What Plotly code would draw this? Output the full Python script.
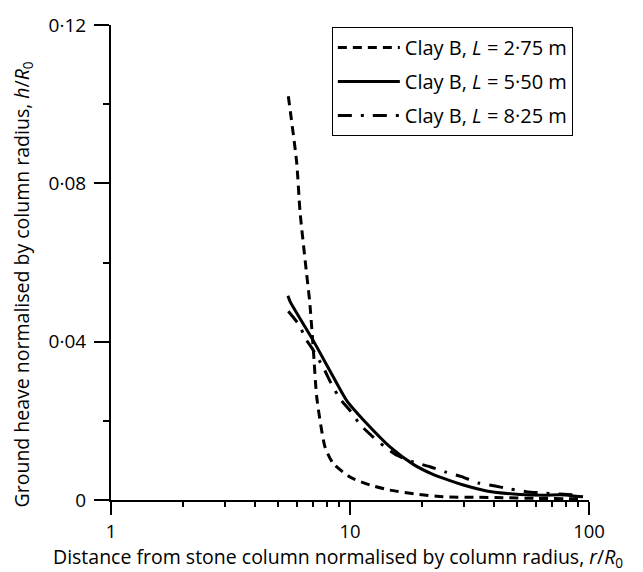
import plotly.graph_objects as go

# ---- data ----
x_l275 = [5.52, 5.98, 6.18, 6.59, 6.78, 7.03, 7.26, 7.86, 8.51, 10.0, 12.1, 14.7, 19.0, 24.5, 33.0, 43.7, 60.0, 90.0]
y_l275 = [0.102, 0.0854, 0.0728, 0.0569, 0.0502, 0.0377, 0.0259, 0.0134, 0.0092, 0.0058, 0.0038, 0.0025, 0.0015, 0.0008, 0.0007, 0.0006, 0.0004, 0.0003]

x_l550 = [5.5, 5.61, 7.03, 8.25, 9.69, 11.75, 14.7, 18.4, 22.0, 26.2, 29.8, 37.3, 51.4, 65.0, 75.6, 85.0, 94.4]
y_l550 = [0.0516, 0.0502, 0.0402, 0.0326, 0.0251, 0.0193, 0.0134, 0.0090, 0.0066, 0.0049, 0.0038, 0.0023, 0.0014, 0.0012, 0.0013, 0.0011, 0.0008]

x_l825 = [5.52, 6.18, 6.48, 6.91, 7.73, 8.33, 9.1, 10.0, 11.0, 12.5, 14.0, 15.7, 18.4, 21.6, 25.0, 29.3, 34.5, 40.0, 46.6, 54.6, 63.2, 75.0, 88.6]
y_l825 = [0.0477, 0.0439, 0.0410, 0.0385, 0.0335, 0.0295, 0.0255, 0.0226, 0.0191, 0.0159, 0.0134, 0.0113, 0.0096, 0.0084, 0.0071, 0.0059, 0.0043, 0.0036, 0.0028, 0.0021, 0.0018, 0.0015, 0.0013]

names = ["Clay B, <i>L</i> = 2·75 m", "Clay B, <i>L</i> = 5·50 m", "Clay B, <i>L</i> = 8·25 m"]
y_tickvals = [0, 0.04, 0.08, 0.12]
y_ticktext = ["0", "0·04", "0·08", "0·12"]
x_tickvals = [1, 10, 100]
x_ticktext = ["1", "10", "100"]

FONT = "Open Sans"

fig = go.Figure()
fig.add_trace(go.Scatter(x=x_l275, y=y_l275, mode="lines", name=names[0], legendgroup="a",
                         line=dict(color="black", width=3, dash="9px,6px", shape="spline", smoothing=0.6)))
fig.add_trace(go.Scatter(x=x_l550, y=y_l550, mode="lines", name=names[1], legendgroup="b",
                         line=dict(color="black", width=3, shape="spline", smoothing=0.6)))
fig.add_trace(go.Scatter(x=x_l825, y=y_l825, mode="lines", name=names[2], legendgroup="c",
                         line=dict(color="black", width=3, dash="14px,9px,3px,9px", shape="spline", smoothing=0.6)))

fig.update_layout(
    width=643, height=572,
    margin=dict(l=111, r=54, t=22, b=72),
    paper_bgcolor="white", plot_bgcolor="white",
    font=dict(family=FONT, size=18, color="black"),
    showlegend=True,
    legend=dict(x=0.462, y=0.996, xanchor="left", yanchor="top",
                bordercolor="black", borderwidth=1, bgcolor="white",
                font=dict(size=20, family=FONT), tracegroupgap=5,
                itemwidth=62),
    xaxis=dict(type="log", range=[0, 2], showgrid=False, zeroline=False,
               showline=True, linecolor="black", linewidth=2,
               ticks="outside", ticklen=13, tickwidth=2, tickcolor="black",
               tickvals=x_tickvals, ticktext=x_ticktext, ticklabelstandoff=1,
               tickfont=dict(size=18.5),
               minor=dict(ticks="outside", ticklen=5, tickwidth=1.5, tickcolor="black",
                          tickvals=[2, 3, 4, 5, 6, 7, 8, 9, 20, 30, 40, 50, 60, 70, 80, 90], showgrid=False)),
    yaxis=dict(range=[0, 0.12], showgrid=False, zeroline=False,
               showline=True, linecolor="black", linewidth=2,
               ticks="outside", ticklen=15, tickwidth=1.5, tickcolor="black",
               tickvals=y_tickvals, ticktext=y_ticktext, ticklabelstandoff=4,
               tickfont=dict(size=19),
               minor=dict(ticks="outside", ticklen=6, tickwidth=1.5, tickcolor="black",
                          tickvals=[0.02, 0.06, 0.10], showgrid=False)),
    annotations=[
        dict(text="Distance from stone column normalised by column radius, <i>r</i>/<i>R</i><sub>0</sub>",
             xref="paper", yref="paper", x=0.475, y=-0.121, xanchor="center", yanchor="middle",
             showarrow=False, font=dict(size=19.5, family=FONT)),
        dict(text="Ground heave normalised by column radius, <i>h</i>/<i>R</i><sub>0</sub>",
             xref="paper", yref="paper", x=-0.186, y=0.454, xanchor="center", yanchor="middle",
             textangle=-90, showarrow=False, font=dict(size=19.5, family=FONT)),
    ],
)

fig.write_html("out.html")
